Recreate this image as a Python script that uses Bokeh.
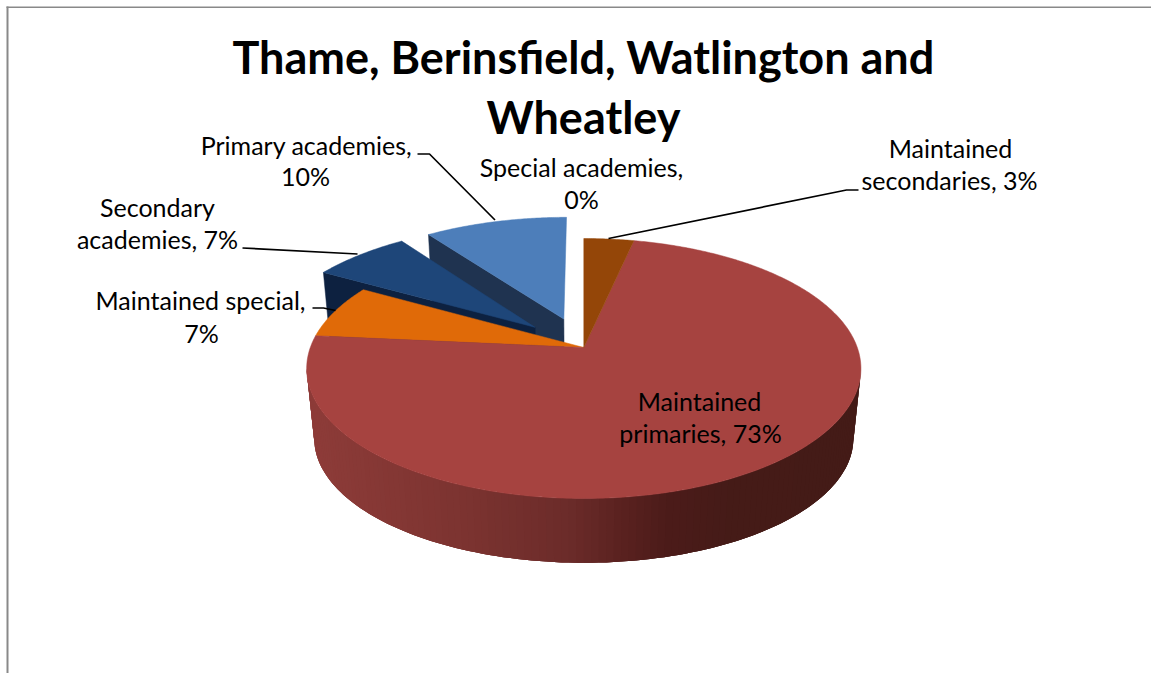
import numpy as np
from bokeh.plotting import figure
from bokeh.models import Range1d
from bokeh.core.properties import value
from bokeh.embed import file_html
from bokeh.resources import INLINE

# ---- data (clockwise from 12 o'clock)
categories = ["Maintained secondaries", "Maintained primaries", "Maintained special",
              "Secondary academies", "Primary academies", "Special academies"]
shares = [3.4, 73.1, 6.7, 6.8, 10.0, 0.0]
explode = [0.0, 0.0, 0.0, 0.245, 0.245, 0.245]
top_colors = ["#944608", "#A64340", "#E06A08", "#1E4679", "#4D7EBA", "#7A5FA0"]
cut_colors = [None, None, None, "#0D2140", "#1F3350", None]

labels = [
    ("Maintained", 950, 147), ("secondaries, 3%", 949, 179),
    ("Primary academies,", 306, 144), ("10%", 305, 175),
    ("Secondary", 157, 206), ("academies, 7%", 157, 238),
    ("Maintained special,", 200, 299), ("7%", 201, 332),
    ("Special academies,", 581, 166), ("0%", 581, 198),
    ("Maintained", 699, 400), ("primaries, 73%", 700, 432),
]
title_lines = [("Thame, Berinsfield, Watlington and", 583, 56), ("Wheatley", 583, 116)]
leaders = [
    ([608, 846, 858], [238, 189.5, 189.5]),
    ([417, 429, 494.5], [153.5, 153.5, 219.5]),
    ([242, 357], [247.5, 253.5]),
    ([312, 323, 335], [307.5, 307.5, 310]),
]
wall_stops_x = [306, 450, 560, 610, 660, 720, 861]
wall_stops_rgb = [(142, 60, 57), (125, 52, 49), (108, 44, 42), (92, 35, 33), (76, 28, 26), (70, 27, 24), (68, 27, 23)]

# ---- perspective model of the tilted disc
CX, K = 583.3, 0.1615
TOP = dict(a=273.5, b=126.6, y0=347.0)
BOT = dict(a=266.0, b=121.0, y0=418.0)


def proj(u, v, pl):
    w = 1 + K * v
    return CX + pl["a"] * u / w, pl["y0"] - pl["b"] * v / w


def rim(t0, t1, off, pl, n=60):
    t = np.radians(np.linspace(t0, t1, n))
    return proj(np.sin(t) + off[0], np.cos(t) + off[1], pl)


p = figure(width=1151, height=673, output_backend="svg", toolbar_location=None,
           x_range=Range1d(0, 1151), y_range=Range1d(673, 0), min_border=0,
           margin=(0, 0, 0, 0), outline_line_color=None, background_fill_color="white")
p.axis.visible = False
p.grid.visible = False

edges = np.cumsum([0] + shares) / sum(shares) * 360
geom = []
for i, s in enumerate(shares):
    t0, t1 = edges[i], edges[i + 1]
    mid = np.radians((t0 + t1) / 2)
    off = (explode[i] * np.sin(mid), explode[i] * np.cos(mid))
    geom.append((t0, t1, off))


def draw_top(i):
    t0, t1, off = geom[i]
    x, y = rim(t0, t1, off, TOP, n=max(int(t1 - t0) * 2, 8))
    ax, ay = proj(off[0], off[1], TOP)
    p.patch(list(x) + [ax], list(y) + [ay], fill_color=top_colors[i],
            line_color=top_colors[i], line_width=0.5)


def draw_cut(i):
    t0, t1, off = geom[i]
    t = np.radians(t0)
    ux, vy = np.sin(t) + off[0], np.cos(t) + off[1]
    a = proj(off[0], off[1], TOP)
    b = proj(ux, vy, TOP)
    c = proj(ux, vy, BOT)
    d = proj(off[0], off[1], BOT)
    p.patch([a[0], b[0], c[0], d[0]], [a[1], b[1], c[1], d[1]],
            fill_color=cut_colors[i], line_color=cut_colors[i], line_width=0.5)


draw_cut(4)
draw_top(4)
draw_cut(3)
draw_top(3)
draw_top(2)

# outer wall of the big slice: overlapping strips so no seams appear
tl = np.degrees(np.arccos(-K))
ths = np.linspace(tl, 360 - tl, 121)
off0 = geom[1][2]
xs_s, ys_s, cols = [], [], []
for j in range(len(ths) - 1):
    a0 = ths[j]
    a1 = ths[min(j + 3, len(ths) - 1)]
    x0, y0 = rim(a0, a1, off0, TOP, n=4)
    x1, y1 = rim(a1, a0, off0, BOT, n=4)
    xs_s.append(list(x0) + list(x1))
    ys_s.append(list(y0) + list(y1))
    xm = float(np.mean(x0))
    rgb = [int(np.interp(xm, wall_stops_x, [c[q] for c in wall_stops_rgb])) for q in range(3)]
    cols.append("#%02x%02x%02x" % tuple(rgb))
p.patches(xs_s, ys_s, fill_color=cols, line_color=None)

draw_top(1)
draw_top(0)

for lx, ly in leaders:
    p.line(lx, ly, line_color="black", line_width=1.7)

p.line([7, 7], [6, 673], line_color="#898989", line_width=2)
p.line([6, 1151], [6.75, 6.75], line_color="#898989", line_width=1.5)

p.text([l[1] for l in labels], [l[2] for l in labels], text=[l[0] for l in labels],
       text_font=value("Lato"), text_font_size="25px", text_color="#000000",
       text_align="center", text_baseline="alphabetic")
p.text([l[1] for l in title_lines], [l[2] for l in title_lines], text=[l[0] for l in title_lines],
       text_font=value("Lato"), text_font_size="45px", text_font_style="bold",
       text_color="#000000", text_align="center", text_baseline="alphabetic")

open("out.html", "w").write(file_html(p, INLINE))
